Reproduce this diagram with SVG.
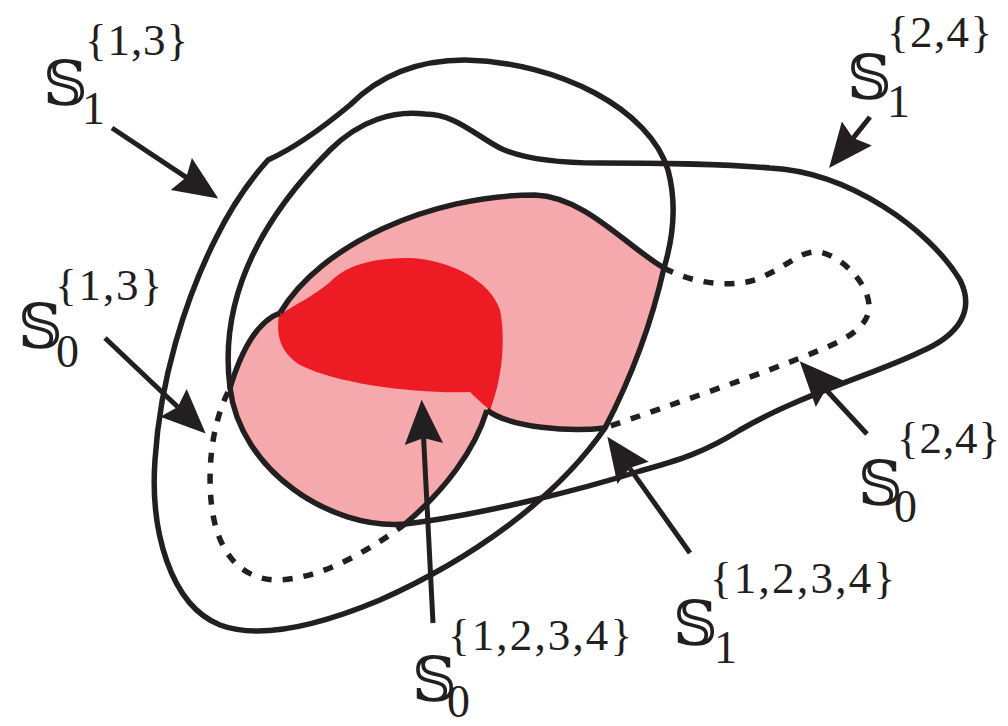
<svg xmlns="http://www.w3.org/2000/svg" width="1008" height="726" viewBox="0 0 1008 726">
<defs>
<style>
.ln{fill:none;stroke:#231f20;stroke-width:5.5;stroke-linecap:butt;stroke-linejoin:round}
.dash{fill:none;stroke:#231f20;stroke-width:5.5;stroke-dasharray:10 11}
.arr{fill:none;stroke:#231f20;stroke-width:5;marker-end:url(#ah)}
.bb{font-family:"DejaVu Serif","DejaVu Sans","Noto Sans",serif;font-size:62px;fill:#231f20}
.sc{font-family:"Liberation Serif",serif;font-size:45px;fill:#231f20}
.sb{font-family:"Liberation Serif",serif;font-size:46px;fill:#231f20}
</style>
<marker id="ah" markerUnits="userSpaceOnUse" markerWidth="60" markerHeight="60" viewBox="-10 -20 50 40" refX="0" refY="0" orient="auto">
<path d="M32,0 L-5,-16 L0,0 L-5,16 Z" fill="#231f20"/>
</marker>
</defs>
<rect width="1008" height="726" fill="#ffffff"/>
<g id="regions">
<path id="pink" fill="#f6a9ac" d="M230,388 C240,355 255,322 280,313 C320,245 430,195 535,195 C585,197 625,245 664,268 C650,330 630,380 605,428 C570,432 510,428 487,410 C475,450 445,490 405,524 C330,530 240,470 230,388 Z"/>
<path id="red" fill="#ed1c24" d="M279,315 C295,305 315,295 330,282 C350,262 380,258 410,258 C450,260 490,280 500,310 C506,340 502,380 490,410 C480,402 474,396 470,392 C420,394 340,385 300,365 C280,352 276,335 279,315 Z"/>
</g>
<g id="curves">
<path id="S1_13" class="ln" d="M268,160 C290,150 320,130 350,105 C380,75 420,60 465,60 C560,62 650,110 668,170 C676,200 674,235 664,268 C650,330 630,380 605,428 C555,500 470,560 380,600 C320,625 260,640 220,625 C170,605 150,530 155,460 C160,380 185,300 215,240 C232,205 250,180 268,160 Z"/>
<path id="S1_24" class="ln" d="M230,388 C220,310 250,230 330,150 C360,120 395,110 425,114 C455,114 475,135 500,148 C525,160 560,163 600,163 C680,163 720,164 770,168 C850,172 930,230 960,280 C975,310 960,335 920,352 C880,372 800,395 740,430 C705,452 680,460 640,471 C580,490 480,515 405,524 C330,530 240,470 230,388 Z"/>
<path id="S0_13_solid" class="ln" d="M487,410 C475,450 445,490 405,524"/>
<path id="S0_13_left" class="ln" d="M230,388 C240,355 255,322 280,313"/>
<path id="S0_13_dash" class="dash" d="M405,524 C370,550 320,580 275,580 C235,578 215,545 211,500 C208,465 212,425 228,392"/>
<path id="S0_24_top" class="ln" d="M280,313 C320,245 430,195 535,195 C585,197 625,245 664,268"/>
<path id="S0_24_bottom" class="ln" d="M605,428 C570,432 510,428 487,410"/>
<path id="S0_24_dash" class="dash" d="M664,268 C690,282 730,290 760,278 C790,265 800,250 820,252 C845,258 868,285 869,305 C870,325 850,338 820,350 C760,375 670,405 605,428"/>
</g>
<g id="connectors">
<line class="arr" x1="112" y1="128" x2="186.3" y2="177.3"/>
<line class="arr" x1="870" y1="117" x2="853.1" y2="138.1"/>
<line class="arr" x1="105" y1="338" x2="177.8" y2="407"/>
<line class="arr" x1="433" y1="623" x2="423.6" y2="438"/>
<line class="arr" x1="690" y1="553" x2="629.6" y2="468.1"/>
<line class="arr" x1="867" y1="434" x2="825.8" y2="389.5"/>
</g>
<g id="label-S1-13">
<text class="bb" x="43" y="105">𝕊</text>
<text class="sb" x="82" y="124">1</text>
<text class="sc" x="85" y="55" textLength="103" lengthAdjust="spacing">{1,3}</text>
</g>
<g id="label-S1-24">
<text class="bb" x="847" y="99">𝕊</text>
<text class="sb" x="887" y="117">1</text>
<text class="sc" x="887" y="47" textLength="105" lengthAdjust="spacing">{2,4}</text>
</g>
<g id="label-S0-13">
<text class="bb" x="18" y="348">𝕊</text>
<text class="sb" x="56" y="367">0</text>
<text class="sc" x="55" y="300" textLength="107" lengthAdjust="spacing">{1,3}</text>
</g>
<g id="label-S0-1234">
<text class="bb" x="412" y="701">𝕊</text>
<text class="sb" x="447" y="717">0</text>
<text class="sc" x="448" y="650" textLength="184" lengthAdjust="spacing">{1,2,3,4}</text>
</g>
<g id="label-S0-24">
<text class="bb" x="858" y="505">𝕊</text>
<text class="sb" x="894" y="522">0</text>
<text class="sc" x="897" y="453" textLength="103" lengthAdjust="spacing">{2,4}</text>
</g>
<g id="label-S1-1234">
<text class="bb" x="673" y="645">𝕊</text>
<text class="sb" x="714" y="663">1</text>
<text class="sc" x="710" y="593" textLength="185" lengthAdjust="spacing">{1,2,3,4}</text>
</g>
</svg>
